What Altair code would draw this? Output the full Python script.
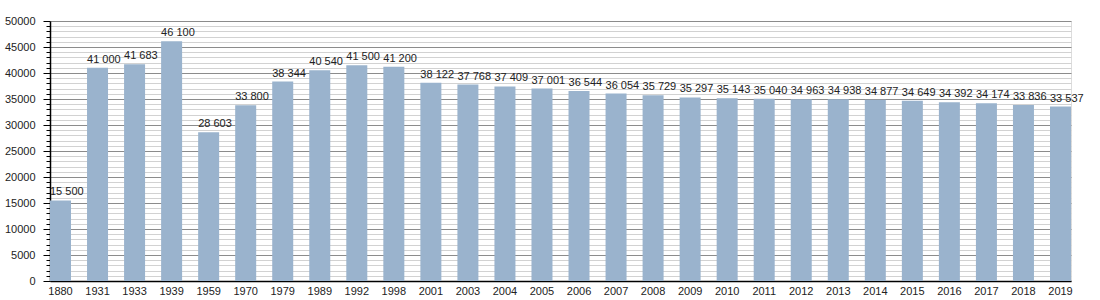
import altair as alt
import pandas as pd

years = ["1880", "1931", "1933", "1939", "1959", "1970", "1979", "1989", "1992", "1998",
         "2001", "2003", "2004", "2005", "2006", "2007", "2008", "2009", "2010", "2011",
         "2012", "2013", "2014", "2015", "2016", "2017", "2018", "2019"]
population = [15500, 41000, 41683, 46100, 28603, 33800, 38344, 40540, 41500, 41200,
              38122, 37768, 37409, 37001, 36544, 36054, 35729, 35297, 35143, 35040,
              34963, 34938, 34877, 34649, 34392, 34174, 33836, 33537]
y_ticks = list(range(0, 50001, 1000))

df = pd.DataFrame({"year": years, "pop": population})
df["label"] = df["pop"].map(lambda v: f"{v:,}".replace(",", " "))

FONT = "Liberation Sans"

x_enc = alt.X("year:N", sort=years,
              scale=alt.Scale(paddingInner=0.433, paddingOuter=0),
              axis=alt.Axis(title=None, labelAngle=0, ticks=False, labelPadding=4,
                            labelFontSize=11, labelFont=FONT, labelColor="#222",
                            domainColor="#000", domainWidth=1.5, grid=False))

y_scale = alt.Scale(domain=[0, 50000], nice=False)

bars = alt.Chart(df).mark_bar(color="#9ab3cd").encode(
    x=x_enc,
    y=alt.Y("pop:Q", scale=y_scale,
            axis=alt.Axis(title=None, values=y_ticks, tickCount=len(y_ticks),
                          labelOverlap=False,
                          labelExpr="datum.value % 5000 === 0 ? datum.value : ''",
                          labelFontSize=11, labelFont=FONT, labelColor="#222",
                          labelPadding=8,
                          tickSize={"condition": {"test": "datum.value % 5000 === 0", "value": 7}, "value": 4},
                          tickColor="#000",
                          domainColor="#000", domainWidth=1.5,
                          gridColor={"condition": {"test": "datum.value % 5000 === 0", "value": "#8c8c8c"}, "value": "#d2d2d2"},
                          gridWidth=1)),
)

text = alt.Chart(df).mark_text(align="left", baseline="alphabetic", dy=-5, dx=0,
                               fontSize=11, font=FONT, color="#222").encode(
    x=alt.X("year:N", sort=years, bandPosition=0),
    y=alt.Y("pop:Q", scale=y_scale),
    text="label:N",
)

chart = alt.layer(bars, text).properties(
    width=1021, height=260,
    autosize=alt.AutoSizeParams(type="none"),
    padding={"left": 50, "top": 21, "right": 29, "bottom": 19},
).configure_view(stroke=None).configure(background="white")

chart.save("out.html", embed_options={"renderer": "svg", "actions": False})
